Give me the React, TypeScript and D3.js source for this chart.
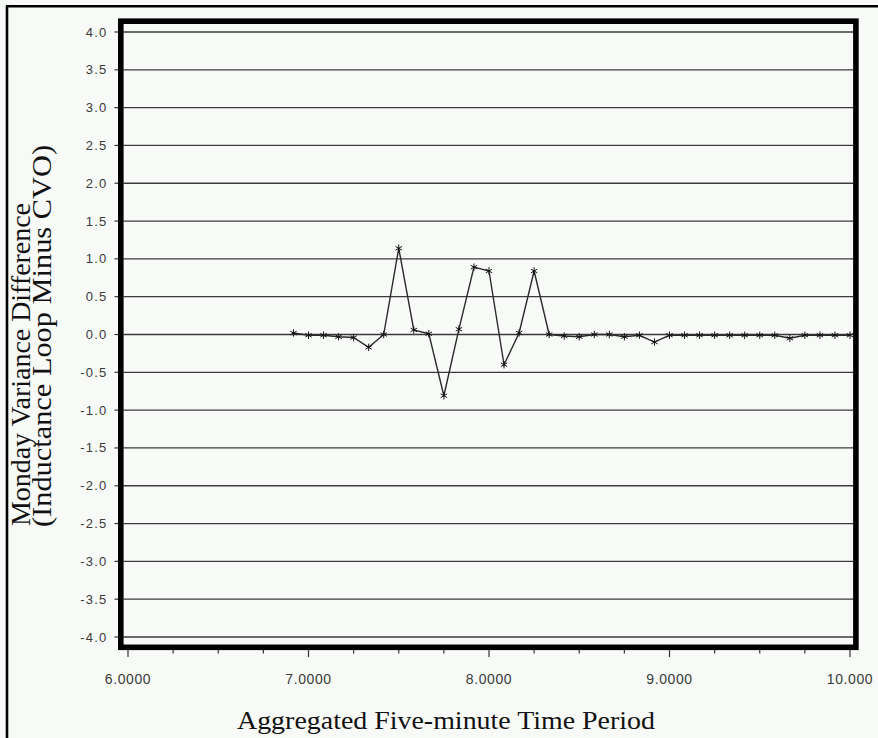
import React from "react";
import * as d3 from "d3";

const xValues: number[] = [
  6.9167, 7.0, 7.0833, 7.1667, 7.25, 7.3333, 7.4167, 7.5, 7.5833, 7.6667,
  7.75, 7.8333, 7.9167, 8.0, 8.0833, 8.1667, 8.25, 8.3333, 8.4167, 8.5,
  8.5833, 8.6667, 8.75, 8.8333, 8.9167, 9.0, 9.0833, 9.1667, 9.25, 9.3333,
  9.4167, 9.5, 9.5833, 9.6667, 9.75, 9.8333, 9.9167, 10.0,
];
const varianceDiff: number[] = [
  0.02, -0.01, -0.01, -0.03, -0.04, -0.17, 0.0, 1.14, 0.06, 0.01,
  -0.81, 0.07, 0.89, 0.84, -0.4, 0.02, 0.84, 0.0, -0.02, -0.03,
  0.0, 0.0, -0.03, -0.01, -0.1, -0.01, -0.01, -0.01, -0.01, -0.01,
  -0.01, -0.01, -0.01, -0.05, -0.01, -0.01, -0.01, -0.01,
];
const yTicks: number[] = [4, 3.5, 3, 2.5, 2, 1.5, 1, 0.5, 0, -0.5, -1, -1.5, -2, -2.5, -3, -3.5, -4];
const xMajorTicks: number[] = [6, 7, 8, 9, 10];
const xMajorLabels: string[] = ["6.0000", "7.0000", "8.0000", "9.0000", "10.000"];
const xMinorTicks: number[] = [6.25, 6.5, 6.75, 7.25, 7.5, 7.75, 8.25, 8.5, 8.75, 9.25, 9.5, 9.75];
const yTitleLines: string[] = ["Monday Variance Difference", "(Inductance Loop Minus CVO)"];
const xTitle = "Aggregated Five-minute Time Period";

export default function App() {
  const W = 878;
  const H = 738;
  const x = d3.scaleLinear().domain([6, 10]).range([128, 850]);
  const y = d3.scaleLinear().domain([4, -4]).range([32, 637]);
  const frame = { x0: 120.8, y0: 21.2, x1: 855.9, y1: 647.3 };
  const inner = { x0: 123.5, x1: 853.2 };

  const pts = xValues.map((v, i) => [v, varianceDiff[i]] as [number, number]);
  const line = d3
    .line<[number, number]>()
    .x((d) => x(d[0]))
    .y((d) => y(d[1]));
  const star = d3.symbol().type(d3.symbolAsterisk).size(38)();

  const tickFont = "'Liberation Sans', Arial, sans-serif";
  const serif = "'Liberation Serif', 'Times New Roman', serif";

  return (
    <svg
      width={W}
      height={H}
      style={{ position: "absolute", left: 0, top: 0, display: "block" }}
    >
      <rect x={0} y={0} width={W} height={H} fill="#f8faf8" />
      {/* outer border (top and left visible) */}
      <line x1={6} y1={6.2} x2={W} y2={6.2} stroke="#000" strokeWidth={2.6} />
      <line x1={7} y1={6} x2={7} y2={H} stroke="#000" strokeWidth={2.6} />

      {/* gridlines */}
      {yTicks.map((t) => (
        <line
          key={"g" + t}
          x1={inner.x0}
          x2={inner.x1}
          y1={y(t)}
          y2={y(t)}
          stroke="#3a3a3a"
          strokeWidth={1.3}
        />
      ))}

      {/* y ticks and labels */}
      {yTicks.map((t) => (
        <g key={"yt" + t}>
          <line x1={114.5} x2={119} y1={y(t)} y2={y(t)} stroke="#333" strokeWidth={1.2} />
          <text
            x={107.5}
            y={y(t) + 4.5}
            textAnchor="end"
            fontFamily={tickFont}
            fontSize={13}
            letterSpacing={1.2}
            fill="#3a3a3a"
          >
            {t.toFixed(1)}
          </text>
        </g>
      ))}

      {/* x ticks */}
      {xMajorTicks.map((t, i) => (
        <g key={"xt" + t}>
          <line x1={x(t)} x2={x(t)} y1={649} y2={657} stroke="#333" strokeWidth={1.2} />
          <text
            x={x(t)}
            y={684}
            textAnchor="middle"
            fontFamily={tickFont}
            fontSize={14}
            letterSpacing={0.6}
            fill="#3a3a3a"
          >
            {xMajorLabels[i]}
          </text>
        </g>
      ))}
      {xMinorTicks.map((t) => (
        <line key={"xm" + t} x1={x(t)} x2={x(t)} y1={649} y2={653.5} stroke="#333" strokeWidth={1.2} />
      ))}

      {/* data line */}
      <path d={line(pts) || ""} fill="none" stroke="#2a2a2a" strokeWidth={1.4} />
      {pts.map((d, i) => (
        <path
          key={"m" + i}
          d={star || ""}
          transform={`translate(${x(d[0])},${y(d[1])})`}
          fill="none"
          stroke="#111"
          strokeWidth={1}
        />
      ))}

      {/* plot frame */}
      <rect
        x={frame.x0}
        y={frame.y0}
        width={frame.x1 - frame.x0}
        height={frame.y1 - frame.y0}
        fill="none"
        stroke="#000"
        strokeWidth={5.6}
      />

      {/* axis titles */}
      <text
        transform="translate(30,526) rotate(-90)"
        fontFamily={serif}
        fontSize={27}
        fill="#111"
        textLength={323}
        lengthAdjust="spacingAndGlyphs"
      >
        {yTitleLines[0]}
      </text>
      <text
        transform="translate(50.5,527) rotate(-90)"
        fontFamily={serif}
        fontSize={27}
        fill="#111"
        textLength={382}
        lengthAdjust="spacingAndGlyphs"
      >
        {yTitleLines[1]}
      </text>
      <text
        x={237}
        y={729}
        fontFamily={serif}
        fontSize={26}
        fill="#111"
        textLength={418}
        lengthAdjust="spacingAndGlyphs"
      >
        {xTitle}
      </text>
    </svg>
  );
}
